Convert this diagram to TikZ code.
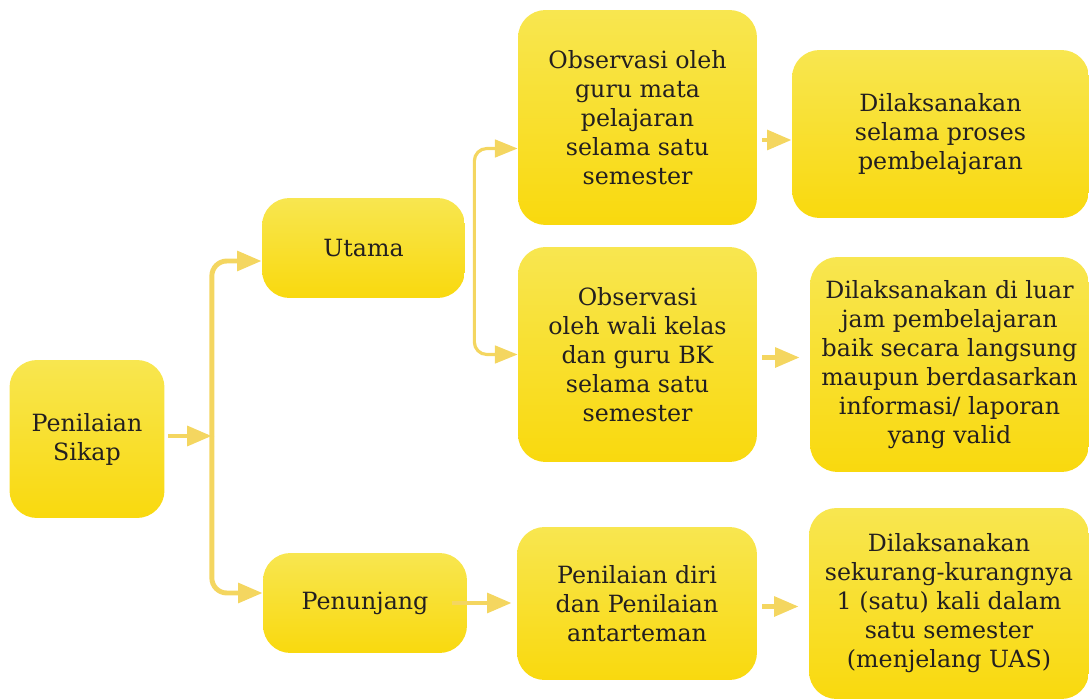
\documentclass[tikz,border=0pt]{standalone}
\usepackage{fontspec}
\setmainfont{DejaVu Serif}
\usepackage{xcolor}
\usepackage{tikz}
\usetikzlibrary{arrows.meta,positioning,calc}
\definecolor{boxtop}{RGB}{248,230,80}
\definecolor{boxmid}{RGB}{250,232,18}
\definecolor{boxbot}{RGB}{249,217,14}
\definecolor{linkcol}{RGB}{244,214,96}
\definecolor{textcol}{RGB}{35,31,32}

\begin{document}
\begin{tikzpicture}[x=0.02cm, y=-0.02cm,
  box_node/.style={rounded corners=0.55cm, top color=boxtop, middle color=boxmid,
    bottom color=boxbot, draw=none, align=center, text=textcol,
    font=\fontsize{13.5}{16.5}\selectfont, inner sep=2pt},
  thick_link/.style={draw=linkcol, line width=2.8pt,
    -{Triangle[length=14pt,width=11pt]}},
  thin_link/.style={draw=linkcol, line width=1.8pt,
    -{Triangle[length=13pt,width=10pt]}},
]
\useasboundingbox (0,0) rectangle (1089,699);

% first column
\node[box_node, minimum width=3.1cm, minimum height=3.16cm] (sikap) at (87,439) {Penilaian\\Sikap};

% second column
\node[box_node, minimum width=4.06cm, minimum height=2cm] (utama) at (363.5,248) {Utama};
\node[box_node, minimum width=4.08cm, minimum height=2cm] (penunjang) at (365,603) {Penunjang};

% third column
\node[box_node, minimum width=4.78cm, minimum height=4.3cm] (obs_guru) at (637.5,117.5)
  {Observasi oleh\\guru mata\\pelajaran\\selama satu\\semester};
\node[box_node, minimum width=4.78cm, minimum height=4.3cm] (obs_wali) at (637.5,354.5)
  {Observasi\\oleh wali kelas\\dan guru BK\\selama satu\\semester};
\node[box_node, minimum width=4.8cm, minimum height=3.06cm] (diri) at (637,603.5)
  {Penilaian diri\\dan Penilaian\\antarteman};

% fourth column
\node[box_node, minimum width=5.94cm, minimum height=3.36cm] (dil_proses) at (940.5,134)
  {Dilaksanakan\\selama proses\\pembelajaran};
\node[box_node, minimum width=5.58cm, minimum height=4.3cm] (dil_luar) at (949.5,364.5)
  {Dilaksanakan di luar\\jam pembelajaran\\baik secara langsung\\maupun berdasarkan\\informasi/ laporan\\yang valid};
\node[box_node, minimum width=5.6cm, minimum height=3.82cm] (dil_uas) at (949,603.5)
  {Dilaksanakan\\sekurang-kurangnya\\1 (satu) kali dalam\\satu semester\\(menjelang UAS)};

% forks
\coordinate (fork_a) at ($(sikap.east)+(47,-3)$);
\coordinate (fork_b) at ($(utama.east)+(9,0)$);

\draw[thick_link, shorten <=0.06cm] ($(sikap.east)+(0,-3)$) -- (fork_a);
\draw[thick_link, rounded corners=0.3cm] (fork_a) |- ($(utama.west)+(0,13)$);
\draw[thick_link, rounded corners=0.3cm] (fork_a) |- ($(penunjang.west)+(0,-10)$);

\draw[thin_link, rounded corners=0.25cm] (fork_b) |- ($(obs_guru.west)+(0,31)$);
\draw[thin_link, rounded corners=0.25cm] (fork_b) |- (obs_wali.west);

\draw[thick_link, shorten <=0.1cm] ($(obs_guru.east |- dil_proses.west)+(0,6)$) -- ($(dil_proses.west)+(0,6)$);
\draw[thick_link, shorten <=0.1cm, shorten >=0.2cm] ($(obs_wali.east)+(0,3)$) -- ($(obs_wali.east -| dil_luar.west)+(0,3)$);
\draw[thick_link, shorten <=-0.3cm, shorten >=0.1cm] (penunjang.east) -- (penunjang.east -| diri.west);
\draw[thick_link, shorten <=0.1cm, shorten >=0.2cm] ($(diri.east)+(0,3)$) -- ($(diri.east -| dil_uas.west)+(0,3)$);
\end{tikzpicture}
\end{document}
